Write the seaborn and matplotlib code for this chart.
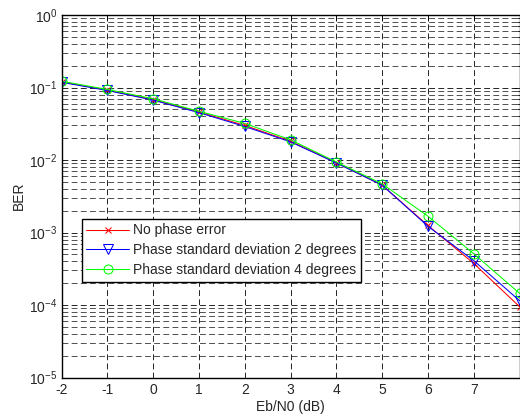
import numpy as np
import pandas as pd
import matplotlib
matplotlib.use("Agg")
import matplotlib.pyplot as plt
import seaborn as sns
from matplotlib.ticker import LogLocator, FixedLocator, FuncFormatter

ebn0 = [-2, -1, 0, 1, 2, 3, 4, 5, 6, 7, 8]
ber_no_phase = [0.120, 0.092, 0.068, 0.046, 0.030, 0.0182, 0.0092, 0.0045, 1.25e-3, 3.75e-4, 9.5e-5]
ber_std2 = [0.118, 0.091, 0.067, 0.045, 0.029, 0.0178, 0.0091, 0.0045, 1.22e-3, 4.1e-4, 1.15e-4]
ber_std4 = [0.122, 0.094, 0.070, 0.047, 0.032, 0.0190, 0.0094, 0.0047, 1.68e-3, 5.1e-4, 1.45e-4]
labels = ["No phase error", "Phase standard deviation 2 degrees", "Phase standard deviation 4 degrees"]
xticks = [-2, -1, 0, 1, 2, 3, 4, 5, 6, 7]

series = [ber_no_phase, ber_std2, ber_std4]
colors = ["#ff0000", "#0000ff", "#00ff00"]
marks = ["x", "v", "o"]

sns.set_style("white")
plt.rcParams["font.family"] = ["Liberation Sans", "DejaVu Sans"]
plt.rcParams["mathtext.fontset"] = "custom"
plt.rcParams["mathtext.rm"] = "Liberation Sans"
plt.rcParams["mathtext.it"] = "Liberation Sans"
plt.rcParams["mathtext.default"] = "regular"
plt.rcParams["axes.unicode_minus"] = False

fig = plt.figure(figsize=(5.2, 4.18), dpi=100)
L, R, T, B = 61.5, 519.5, 15.0, 377.5
ax = fig.add_axes([L / 520, 1 - B / 418, (R - L) / 520, (B - T) / 418])

for vals, lab, col, mk in zip(series, labels, colors, marks):
    d = pd.DataFrame({"Eb/N0 (dB)": ebn0, "BER": vals})
    sns.lineplot(data=d, x="Eb/N0 (dB)", y="BER", ax=ax, color=col, marker=mk,
                 label=lab, linewidth=0.75, markersize=6.5 if mk != "x" else 4.5,
                 markerfacecolor="none", markeredgecolor=col, markeredgewidth=0.75)

ax.set_yscale("log")
ax.set_xlim(-2, 8)
ax.set_ylim(1e-5, 1)
ax.xaxis.set_major_locator(FixedLocator(xticks))
ax.yaxis.set_major_locator(LogLocator(base=10, numticks=10))
ax.yaxis.set_minor_locator(LogLocator(base=10, subs=np.arange(2, 10), numticks=20))
ax.yaxis.set_major_formatter(FuncFormatter(lambda v, p: r"$10^{%d}$" % int(round(np.log10(v)))))
ax.yaxis.set_minor_formatter(FuncFormatter(lambda v, p: ""))

ax.grid(True, which="major", axis="both", color="black", linestyle=(0, (7, 4)), linewidth=0.6)
ax.grid(True, which="minor", axis="y", color="#333333", linestyle=(0, (7, 4)), linewidth=0.6)

ax.tick_params(axis="both", which="both", direction="in", top=True, right=True,
               labelsize=10, color="black", width=0.6)
ax.tick_params(axis="both", which="major", length=4)
ax.tick_params(axis="y", which="minor", length=2)
ax.tick_params(axis="x", which="major", pad=4)
ax.tick_params(axis="y", which="major", pad=3)

for s in ax.spines.values():
    s.set_color("black")
    s.set_linewidth(1.0)

ax.set_xlabel("Eb/N0 (dB)", fontsize=10, labelpad=2)
ax.set_ylabel("BER", fontsize=10, labelpad=2)

handles, lbls = ax.get_legend_handles_labels()
leg = ax.legend(handles, lbls, loc="upper left",
                bbox_to_anchor=(81.7 / 520, 1 - 219 / 418), bbox_transform=fig.transFigure,
                fontsize=10, frameon=True, fancybox=False, borderaxespad=0,
                handlelength=3.1, labelspacing=0.42, borderpad=0.32, handletextpad=0.3)
leg.get_frame().set_edgecolor("black")
leg.get_frame().set_linewidth(1.0)
leg.get_frame().set_alpha(1)

fig.savefig("out.png", dpi=100)
